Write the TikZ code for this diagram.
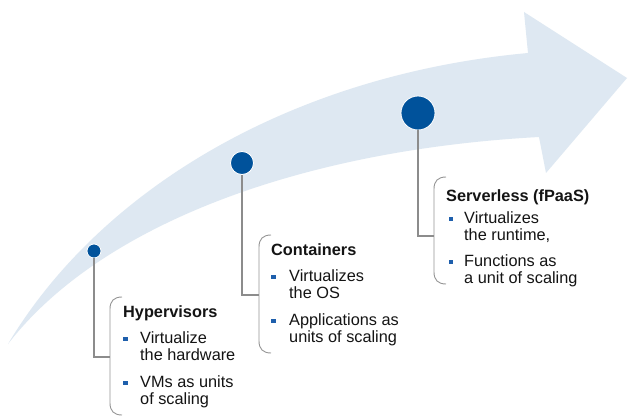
\documentclass[tikz,border=0pt]{standalone}
\usepackage{fontspec}
\setmainfont{Liberation Sans}
\definecolor{bandblue}{RGB}{222,232,242}
\definecolor{dotblue}{RGB}{0,82,155}
\definecolor{bulletblue}{RGB}{30,95,172}
\definecolor{linkgray}{RGB}{140,140,140}
\definecolor{bracketgray}{RGB}{150,150,150}
\definecolor{textdark}{RGB}{20,20,20}
\begin{document}
\begin{tikzpicture}[x=1pt,y=-1pt,
  band/.style={fill=bandblue,draw=none},
  milestone/.style={circle,fill=dotblue,draw=white,line width=0.8pt,inner sep=0pt,minimum size=#1},
  link/.style={draw=linkgray,line width=1.1pt},
  bracket/.style={draw=bracketgray,line width=0.9pt},
  heading/.style={anchor=base west,inner sep=0pt,text=textdark,font=\fontsize{16.3}{18}\selectfont\bfseries},
  itemline/.style={anchor=base west,inner sep=0pt,text=textdark,font=\fontsize{16.3}{18}\selectfont},
  bulletsq/.style={fill=bulletblue,minimum size=4.3pt,inner sep=0pt}]
\useasboundingbox (0,0) rectangle (633,420);
\fill[white] (0,0) rectangle (633,420);

% curved arrow in the background
\fill[band] (8,344) .. controls (100,190) and (290,75) .. (528,53)
  -- (524,12) -- (627,78) -- (546,173) -- (539,137)
  .. controls (300,150) and (100,225) .. (8,344) -- cycle;

% milestones
\node[milestone=14pt] (d1) at (94,251) {};
\node[milestone=23pt] (d2) at (242,163) {};
\node[milestone=34pt] (d3) at (418,113) {};

% brackets
\draw[bracket] (122,297) .. controls (114,297) and (110,301) .. (110,309) -- (110,403) .. controls (110,411) and (114,415) .. (122,415);
\draw[bracket] (271,235) .. controls (263,235) and (259,239) .. (259,247) -- (259,341) .. controls (259,349) and (263,353) .. (271,353);
\draw[bracket] (446,177) .. controls (438,177) and (434,181) .. (434,189) -- (434,272) .. controls (434,280) and (438,284) .. (446,284);

% connectors from milestones to brackets
\coordinate (k1) at (110,357);
\coordinate (k2) at (259,295);
\coordinate (k3) at (434,236);
\draw[link] (d1) |- (k1);
\draw[link] (d2) |- (k2);
\draw[link] (d3) |- (k3);

% Hypervisors
\node[heading] (h0) at (123,317) {Hypervisors};
\node[bulletsq] (hb1) at (125.5,339) {};
\node[itemline] (h1) at (140,343) {Virtualize};
\node[itemline] (h2) at (140,360.5) {the hardware};
\node[bulletsq] (hb2) at (125.5,383) {};
\node[itemline] (h3) at (140,387) {VMs as units};
\node[itemline] (h4) at (140,404.5) {of scaling};

% Containers
\node[heading] (c0) at (271,255) {Containers};
\node[bulletsq] (cb1) at (273.5,277) {};
\node[itemline] (c1) at (289,281) {Virtualizes};
\node[itemline] (c2) at (289,298.5) {the OS};
\node[bulletsq] (cb2) at (273.5,321) {};
\node[itemline] (c3) at (289,325) {Applications as};
\node[itemline] (c4) at (289,342.5) {units of scaling};

% Serverless
\node[heading] (s0) at (446,201) {Serverless (fPaaS)};
\node[bulletsq] (sb1) at (451,219) {};
\node[itemline] (s1) at (464,223) {Virtualizes};
\node[itemline] (s2) at (464,240.5) {the runtime,};
\node[bulletsq] (sb2) at (451,262) {};
\node[itemline] (s3) at (464,266) {Functions as};
\node[itemline] (s4) at (464,283.5) {a unit of scaling};
\end{tikzpicture}
\end{document}
